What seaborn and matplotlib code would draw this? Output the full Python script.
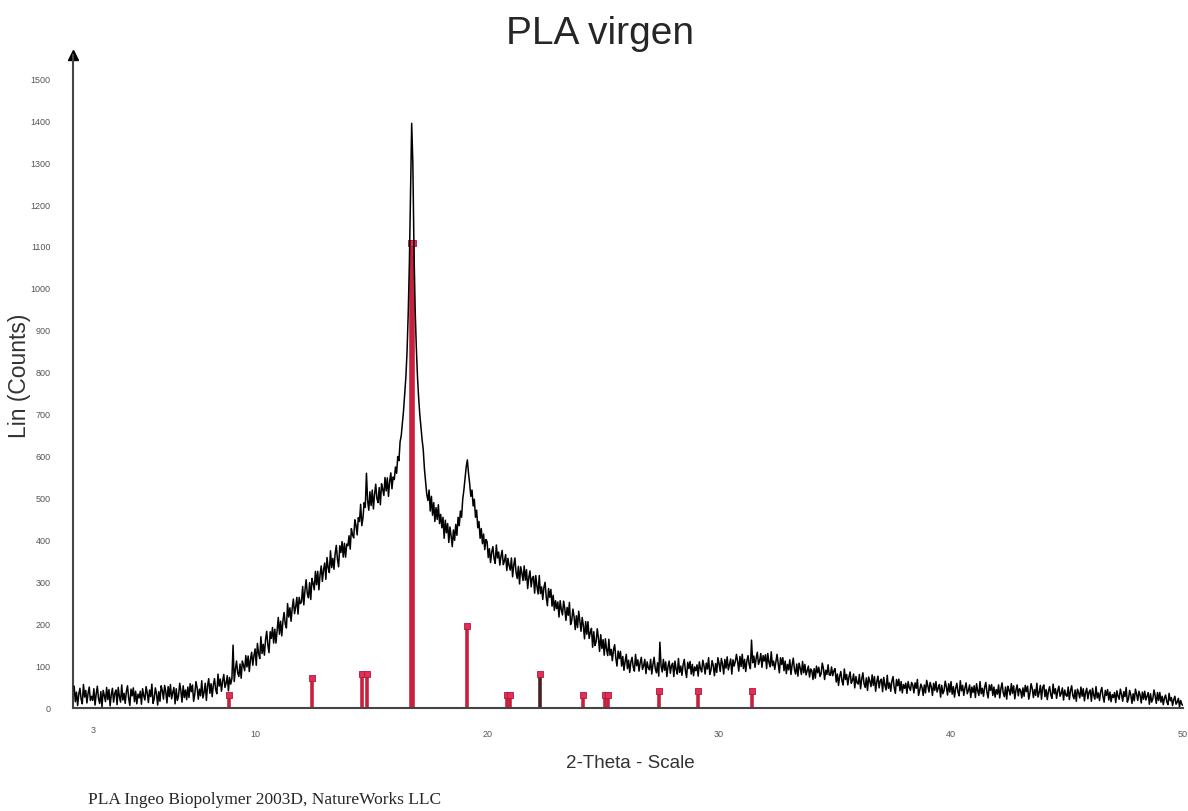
import numpy as np
import pandas as pd
import matplotlib
matplotlib.use("Agg")
import matplotlib.pyplot as plt
import matplotlib.ticker as mticker
import seaborn as sns

# XRD scan, 2-theta from 2.2 to 50.0 deg, step 0.05
scan_start = 2.2
scan_step = 0.05
counts = [
    52, 15, 38, 6, 33, 47, 21, 10, 56, 26, 42, 12, 35, 50, 18, 28,                       # 2.2
    18, 46, 7, 34, 52, 22, 11, 39, 3, 42, 30, 15, 49, 20, 44, 5, 32, 47, 14, 35,          # 3
    43, 8, 49, 27, 14, 55, 19, 35, 11, 39, 53, 23, 6, 45, 29, 48, 15, 40, 10, 33,         # 4
    24, 40, 9, 46, 29, 19, 51, 36, 13, 43, 27, 57, 11, 22, 48, 34, 7, 39, 16, 53,         # 5
    42, 21, 54, 39, 12, 51, 27, 56, 22, 37, 49, 10, 46, 18, 29, 59, 41, 14, 53, 25,       # 6
    43, 20, 50, 25, 58, 39, 55, 16, 33, 63, 49, 21, 45, 29, 65, 24, 37, 59, 18, 53,       # 7
    70, 35, 58, 27, 55, 70, 44, 34, 81, 52, 69, 40, 64, 80, 49, 59, 77, 41, 73, 57,       # 8
    70, 150, 63, 92, 112, 84, 75, 105, 71, 112, 102, 89, 125, 98, 124, 87, 116, 133, 102, 125,   # 9
    141, 102, 154, 130, 118, 170, 130, 152, 126, 163, 183, 150, 132, 182, 166, 192, 155, 188, 155, 186,  # 10
    216, 176, 207, 172, 208, 228, 200, 191, 249, 217, 239, 207, 238, 260, 225, 241, 264, 224, 264, 249,  # 11
    253, 290, 246, 281, 306, 273, 263, 299, 259, 309, 297, 282, 326, 294, 326, 282, 318, 339, 302, 330,  # 12
    346, 307, 359, 335, 323, 375, 335, 357, 331, 368, 388, 355, 337, 387, 371, 397, 360, 393, 360, 391,  # 13
    387, 411, 379, 428, 413, 406, 449, 436, 413, 454, 445, 486, 435, 453, 490, 479, 560, 495, 472, 516,  # 14
    483, 520, 475, 510, 534, 500, 490, 526, 485, 535, 522, 507, 550, 518, 549, 505, 540, 561, 523, 551,  # 15
    545, 575, 560, 600, 590, 635, 650, 680, 710, 750, 790, 850, 940, 1060, 1220, 1395, 1300, 1090, 950, 860,  # 16
    790, 740, 700, 670, 640, 615, 570, 540, 510, 495, 520, 470, 505, 460, 490, 445, 478, 450, 485, 440,  # 17
    462, 430, 455, 405, 448, 418, 440, 395, 432, 410, 385, 425, 400, 438, 412, 455, 435, 470, 455, 498,  # 18
    520, 548, 575, 592, 560, 535, 505, 520, 482, 498, 455, 472, 430, 445, 405, 428, 392, 415, 378, 402,  # 19
    397, 359, 380, 347, 372, 385, 357, 345, 389, 358, 372, 341, 362, 376, 342, 351, 366, 328, 357, 340,  # 20
    329, 358, 313, 341, 358, 323, 309, 338, 296, 337, 322, 304, 339, 305, 330, 285, 312, 327, 289, 310,  # 21
    314, 274, 316, 290, 272, 316, 273, 289, 259, 288, 300, 265, 244, 285, 264, 283, 243, 269, 233, 256,  # 22
    237, 253, 217, 256, 235, 222, 255, 237, 209, 240, 221, 252, 199, 209, 236, 218, 187, 220, 192, 231,  # 23
    208, 183, 216, 197, 165, 206, 176, 206, 166, 180, 190, 145, 182, 149, 158, 189, 167, 135, 175, 142,  # 24
    163, 126, 165, 140, 125, 164, 126, 140, 113, 139, 151, 119, 100, 136, 118, 135, 100, 123, 90, 111,   # 25
    128, 94, 114, 85, 110, 121, 98, 88, 128, 101, 115, 88, 108, 121, 92, 101, 116, 82, 110, 96,         # 26
    91, 116, 81, 104, 121, 94, 84, 108, 76, 157, 100, 86, 116, 90, 110, 75, 99, 112, 83, 101,           # 27
    107, 75, 112, 92, 81, 118, 85, 100, 78, 103, 116, 89, 73, 109, 94, 111, 81, 104, 77, 98,            # 28
    89, 103, 76, 110, 94, 86, 114, 101, 81, 107, 93, 120, 80, 90, 113, 101, 77, 106, 85, 120,           # 29
    106, 87, 118, 105, 81, 116, 95, 122, 91, 104, 117, 81, 115, 100, 111, 128, 111, 88, 123, 99,        # 30
    128, 94, 116, 87, 112, 125, 103, 94, 162, 108, 124, 97, 119, 133, 104, 113, 130, 97, 125, 112,      # 31
    127, 94, 130, 109, 98, 134, 101, 112, 92, 110, 128, 107, 84, 120, 104, 120, 89, 112, 82, 104,       # 32
    91, 115, 80, 103, 119, 92, 81, 105, 76, 107, 95, 80, 111, 84, 104, 79, 89, 100, 74, 93,             # 33
    89, 68, 94, 71, 100, 84, 97, 75, 82, 107, 94, 68, 90, 80, 103, 79, 78, 98, 77, 89,                  # 34
    94, 62, 81, 54, 76, 87, 64, 55, 93, 68, 80, 55, 74, 86, 59, 66, 81, 48, 75, 60,                     # 35
    57, 80, 46, 69, 84, 58, 49, 72, 42, 74, 64, 51, 79, 54, 75, 40, 63, 76, 48, 65,                     # 36
    69, 39, 73, 54, 43, 78, 47, 60, 40, 64, 75, 49, 35, 68, 53, 69, 41, 63, 36, 56,                     # 37
    47, 59, 35, 63, 49, 42, 61, 55, 36, 60, 47, 68, 30, 42, 57, 49, 30, 55, 36, 66,                     # 38
    53, 38, 61, 51, 30, 59, 42, 63, 38, 48, 56, 26, 54, 34, 42, 64, 50, 31, 58, 38,                     # 39
    63, 33, 51, 26, 47, 59, 38, 29, 65, 41, 54, 30, 48, 60, 34, 42, 55, 25, 50, 37,                     # 40
    53, 25, 58, 41, 30, 63, 34, 47, 28, 50, 61, 37, 24, 55, 42, 56, 30, 50, 26, 44,                     # 41
    33, 55, 24, 46, 60, 36, 27, 50, 21, 52, 43, 31, 58, 35, 53, 22, 43, 55, 29, 46,                     # 42
    42, 24, 48, 28, 54, 39, 52, 21, 35, 58, 47, 25, 44, 30, 59, 26, 37, 54, 21, 49,                     # 43
    55, 27, 44, 20, 40, 51, 31, 23, 57, 34, 46, 23, 41, 52, 28, 35, 48, 19, 43, 31,                     # 44
    28, 50, 20, 41, 53, 30, 22, 43, 16, 45, 36, 24, 50, 28, 46, 17, 37, 47, 22, 38,                     # 45
    43, 16, 47, 31, 21, 51, 24, 36, 18, 39, 49, 27, 14, 42, 30, 44, 19, 38, 15, 32,                     # 46
    25, 37, 13, 41, 28, 21, 45, 33, 16, 39, 27, 49, 14, 22, 42, 31, 11, 34, 17, 45,                     # 47
    33, 18, 40, 31, 12, 38, 21, 40, 19, 28, 37, 9, 34, 14, 22, 43, 29, 11, 37, 18,                      # 48
    37, 14, 28, 8, 24, 31, 15, 8, 35, 17, 25, 6, 20, 28, 9, 14, 23, 3, 18, 9,                           # 49
    6,                                                                                                  # 50
]

# reference pattern sticks (PDF card)
stick_pos = [8.89, 12.44, 14.59, 14.81, 16.72, 16.80, 19.13, 20.85, 20.99,
             22.28, 24.15, 25.10, 25.20, 27.42, 29.10, 31.43]
stick_height = [30, 72, 82, 82, 1110, 1110, 195, 30, 30,
                82, 30, 30, 30, 40, 40, 40]
stick_color = ["#c8203c"] * len(stick_pos)
stick_color[9] = "#4a2020"

x_tick_labels = {3: "3", 10: "10", 20: "20", 30: "30", 40: "40", 50: "50"}

two_theta = np.round(scan_start + scan_step * np.arange(len(counts)), 2)
df = pd.DataFrame({"two_theta": two_theta, "counts": counts})
sticks = pd.DataFrame({"pos": stick_pos, "h": stick_height})

sns.set_style("white")
plt.rcParams["font.family"] = ["Liberation Sans", "DejaVu Sans"]

fig = plt.figure(figsize=(11.88, 8.11), dpi=100)
ax = fig.add_axes([73 / 1188, 103 / 811, 1110 / 1188, 653 / 811])

ax.vlines(sticks["pos"], 0, sticks["h"], colors=stick_color, linewidth=2.6, zorder=2)
sns.scatterplot(data=sticks, x="pos", y="h", marker="s", s=24, color="#e0305a",
                edgecolor="#b01838", linewidth=0.6, ax=ax, zorder=3, legend=False)
sns.lineplot(data=df, x="two_theta", y="counts", color="black", linewidth=1.1,
             estimator=None, sort=False, ax=ax, zorder=4)

ax.set_xlim(2.15, 50.0)
ax.set_ylim(0, 1558)

for s in ["top", "right"]:
    ax.spines[s].set_visible(False)
for s in ["left", "bottom"]:
    ax.spines[s].set_color("#444444")
    ax.spines[s].set_linewidth(1.5)
ax.plot(0, 1, marker="^", color="black", markersize=7, transform=ax.transAxes, clip_on=False)

ax.yaxis.set_major_locator(mticker.MultipleLocator(100))
ax.yaxis.set_minor_locator(mticker.MultipleLocator(50))
ax.xaxis.set_major_locator(mticker.MultipleLocator(5))
ax.xaxis.set_minor_locator(mticker.MultipleLocator(1))
ax.xaxis.set_major_formatter(mticker.FuncFormatter(
    lambda v, p: x_tick_labels.get(int(round(v)), "")))
ax.xaxis.set_minor_formatter(mticker.FuncFormatter(
    lambda v, p: x_tick_labels.get(int(round(v)), "") if abs(v - 3) < 0.01 else ""))

ax.tick_params(axis="both", which="major", direction="out", length=7, width=1.2,
               color="#555555", labelsize=6.5, labelcolor="#555555")
ax.tick_params(axis="both", which="minor", direction="out", length=4, width=1.0,
               color="#555555", labelsize=6.5, labelcolor="#555555")
ax.tick_params(axis="x", which="both", pad=9)
ax.tick_params(axis="y", which="both", pad=9)

ax.set_xlabel("")
ax.set_ylabel("")

fig.text(600 / 1188, 1 - 34 / 811, "PLA virgen", fontsize=28, ha="center", va="center")
fig.text(20 / 1188, 1 - 376 / 811, "Lin (Counts)", fontsize=16.5, color="#333333",
         rotation=90, ha="center", va="center")
fig.text(630 / 1188, 1 - 763 / 811, "2-Theta - Scale", fontsize=13.5, color="#333333",
         ha="center", va="center")
fig.text(88 / 1188, 1 - 800 / 811, "PLA Ingeo Biopolymer 2003D, NatureWorks LLC",
         fontsize=12.5, family=["Liberation Serif", "DejaVu Serif"], ha="left", va="center")

fig.savefig("out.png", dpi=100)
